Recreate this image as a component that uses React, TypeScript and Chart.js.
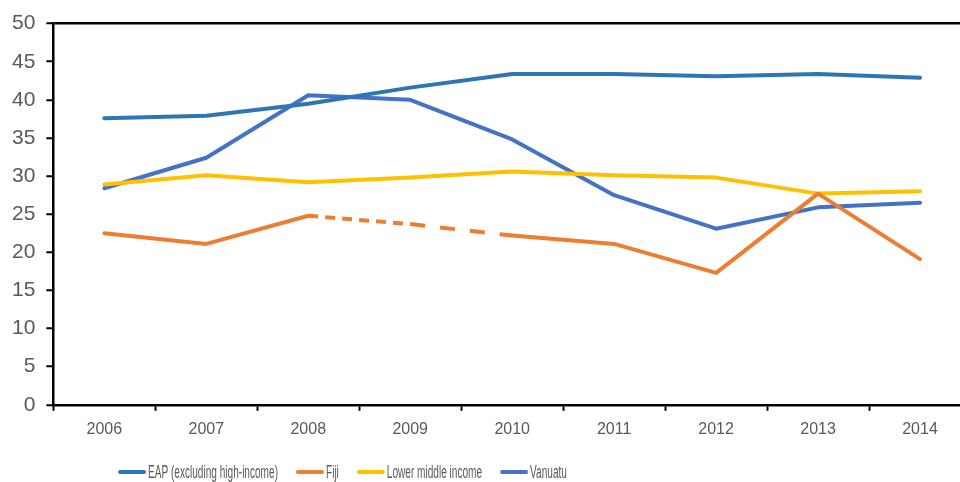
import React, { useEffect, useRef } from "react";
import { Chart, registerables } from "chart.js";

Chart.register(...registerables);

const years = ["2006", "2007", "2008", "2009", "2010", "2011", "2012", "2013", "2014"];
const eap = [37.6, 37.9, 39.5, 41.6, 43.4, 43.4, 43.1, 43.4, 42.9];
const fiji = [22.5, 21.1, 24.8, 23.7, 22.2, 21.1, 17.3, 27.7, 19.1];
const lowerMiddle = [28.9, 30.1, 29.2, 29.8, 30.6, 30.1, 29.8, 27.7, 28.0];
const vanuatu = [28.4, 32.4, 40.6, 40.0, 34.8, 27.5, 23.1, 25.9, 26.5];

const FONT = "'Liberation Sans', Arial, sans-serif";
const GRAY = "#595959";

// Legend drawn below the axis, from the datasets' own labels and colours
const LEG_X = 118;
const LEG_Y = 472;
const LEG_SIZE = 18;
const LEG_SX = 0.56;
const LEG_GAP = 18;

const bottomLegend = {
  id: "bottomLegend",
  afterDraw(chart: any) {
    const ctx = chart.ctx;
    ctx.save();
    ctx.font = `${LEG_SIZE}px ${FONT}`;
    ctx.textBaseline = "middle";
    ctx.textAlign = "left";
    let x = LEG_X;
    chart.data.datasets.forEach((ds: any) => {
      ctx.strokeStyle = ds.borderColor;
      ctx.lineWidth = 4;
      ctx.lineCap = "round";
      ctx.setLineDash([]);
      ctx.beginPath();
      ctx.moveTo(x + 2, LEG_Y);
      ctx.lineTo(x + 26, LEG_Y);
      ctx.stroke();
      x += 30;
      const w = ctx.measureText(ds.label).width * LEG_SX;
      ctx.save();
      ctx.translate(x, LEG_Y);
      ctx.scale(LEG_SX, 1);
      ctx.fillStyle = GRAY;
      ctx.fillText(ds.label, 0, 1);
      ctx.restore();
      x += w + LEG_GAP;
    });
    ctx.restore();
  },
};

export default function App() {
  const ref = useRef<HTMLCanvasElement>(null);
  useEffect(() => {
    if (!ref.current) return;
    const mk = (label: string, data: number[], color: string, extra: any = {}) => ({
      label,
      data,
      borderColor: color,
      backgroundColor: color,
      borderWidth: 4,
      pointRadius: 0,
      borderCapStyle: "round",
      borderJoinStyle: "round",
      tension: 0,
      ...extra,
    });
    const chart = new Chart(ref.current, {
      type: "line",
      data: {
        labels: years,
        datasets: [
          mk("EAP (excluding high-income)", eap, "#2E75B6"),
          mk("Fiji", fiji, "#ED7D31", {
            segment: {
              borderDash: (ctx: any) =>
                ctx.p0DataIndex === 2 ? [10, 7] : ctx.p0DataIndex === 3 ? [15, 15] : undefined,
              borderCapStyle: (ctx: any) =>
                ctx.p0DataIndex === 2 || ctx.p0DataIndex === 3 ? "butt" : undefined,
            },
          }),
          mk("Lower middle income", lowerMiddle, "#FFC000"),
          mk("Vanuatu", vanuatu, "#4472C4"),
        ],
      },
      options: {
        responsive: false,
        animation: false,
        layout: { padding: { left: 1, right: 4, top: 12, bottom: 34 } },
        plugins: {
          tooltip: { enabled: false },
          legend: { display: false },
        },
        scales: {
          x: {
            offset: true,
            grid: {
              offset: true,
              drawOnChartArea: false,
              tickLength: 6,
              tickWidth: 2,
              tickColor: "#000",
            },
            border: { display: true, color: "#000", width: 2.5 },
            ticks: { color: GRAY, font: { family: FONT, size: 16 }, padding: 9, maxRotation: 0 },
          },
          y: {
            min: 0,
            max: 50,
            ticks: { stepSize: 5, color: GRAY, font: { family: FONT, size: 21 }, padding: 11 },
            grid: {
              color: (ctx: any) => (ctx.tick && ctx.tick.value === 50 ? "#000" : "rgba(0,0,0,0)"),
              lineWidth: 2.5,
              tickLength: 7,
              tickWidth: 2,
              tickColor: "#000",
            },
            border: { display: true, color: "#000", width: 2.5 },
          },
        },
      },
      plugins: [bottomLegend],
    } as any);
    return () => chart.destroy();
  }, []);
  return (
    <div style={{ position: "fixed", left: 0, top: 0, width: 960, height: 482, overflow: "hidden", background: "#fff" }}>
      <canvas ref={ref} width={975} height={482} style={{ display: "block" }} />
    </div>
  );
}
